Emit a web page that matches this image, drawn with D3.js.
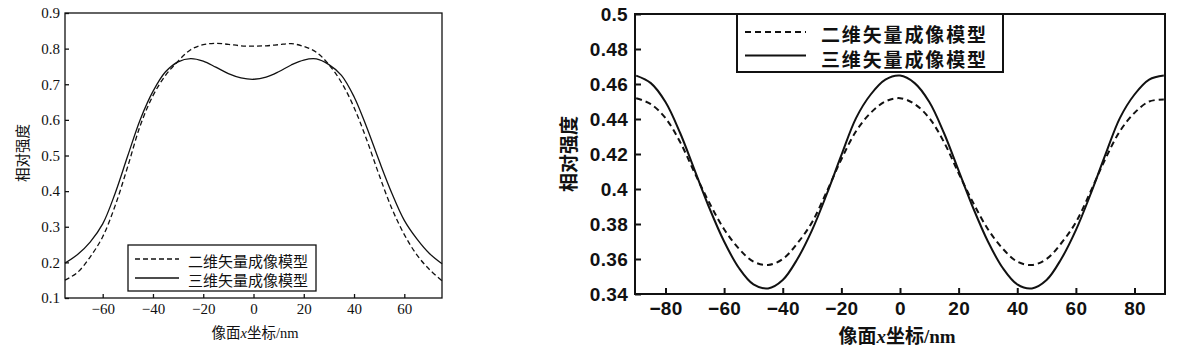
<!DOCTYPE html>
<html><head><meta charset="utf-8">
<script src="https://cdn.jsdelivr.net/npm/d3@7"></script>
<style>html,body{margin:0;padding:0;background:#fff;}</style>
</head><body>
<script>
// ---------- Left chart data ----------
const leftX = [-75,-70,-65,-60,-55,-50,-45,-40,-35,-30,-25,-20,-15,-10,-5,0,5,10,15,20,25,30,35,40,45,50,55,60,65,70,75];
const left2D = [0.150,0.172,0.215,0.272,0.360,0.470,0.585,0.668,0.725,0.765,0.797,0.811,0.815,0.812,0.808,0.807,0.808,0.811,0.814,0.806,0.790,0.755,0.705,0.635,0.545,0.445,0.352,0.278,0.221,0.180,0.148];
const left3D = [0.198,0.222,0.257,0.308,0.395,0.500,0.602,0.680,0.735,0.763,0.772,0.765,0.748,0.730,0.718,0.714,0.720,0.735,0.754,0.768,0.771,0.755,0.725,0.665,0.580,0.485,0.395,0.318,0.266,0.225,0.196];
const leftXTicks = [-60,-40,-20,0,20,40,60];
const leftXTickLabels = ["\u221260","\u221240","\u221220","0","20","40","60"];
const leftYTicks = [0.1,0.2,0.3,0.4,0.5,0.6,0.7,0.8,0.9];
const leftYTickLabels = ["0.1","0.2","0.3","0.4","0.5","0.6","0.7","0.8","0.9"];

// ---------- Right chart data ----------
const rightX = [-90,-85,-80,-75,-70,-65,-60,-55,-50,-45,-40,-35,-30,-25,-20,-15,-10,-5,0,5,10,15,20,25,30,35,40,45,50,55,60,65,70,75,80,85,90];
const right2D = [0.4519,0.4485,0.4405,0.4268,0.4090,0.3920,0.3770,0.3660,0.3585,0.3566,0.3600,0.3690,0.3810,0.3985,0.4170,0.4330,0.4435,0.4500,0.4519,0.4485,0.4405,0.4268,0.4090,0.3920,0.3770,0.3660,0.3585,0.3566,0.3600,0.3690,0.3810,0.3985,0.4170,0.4330,0.4435,0.4500,0.4512];
const right3D = [0.4648,0.4605,0.4497,0.4320,0.4105,0.3890,0.3700,0.3550,0.3455,0.3432,0.3480,0.3600,0.3765,0.3970,0.4193,0.4405,0.4540,0.4625,0.4648,0.4605,0.4497,0.4320,0.4105,0.3890,0.3700,0.3550,0.3455,0.3432,0.3480,0.3600,0.3765,0.3970,0.4193,0.4405,0.4540,0.4625,0.4648];
const rightXTicks = [-80,-60,-40,-20,0,20,40,60,80];
const rightXTickLabels = ["\u221280","\u221260","\u221240","\u221220","0","20","40","60","80"];
const rightYTicks = [0.34,0.36,0.38,0.40,0.42,0.44,0.46,0.48,0.50];
const rightYTickLabels = ["0.34","0.36","0.38","0.4","0.42","0.44","0.46","0.48","0.5"];

const seriesNames = ["二维矢量成像模型","三维矢量成像模型"];
const yTitle = "相对强度";

const W = 1177, H = 356;
const svg = d3.select("body").append("svg").attr("width", W).attr("height", H)
  .style("background","#fff");

function drawChart(o) {
  const x = d3.scaleLinear().domain(o.xDomain).range([o.left, o.right]);
  const y = d3.scaleLinear().domain(o.yDomain).range([o.bottom, o.top]);
  const g = svg.append("g");

  const xa = g.append("g").attr("transform", `translate(0,${o.bottom})`)
    .call(d3.axisBottom(x).tickValues(o.xTicks)
      .tickFormat((d,i) => o.xTickLabels[i])
      .tickSizeInner(-o.tickLen).tickSizeOuter(0).tickPadding(o.xPad));
  const ya = g.append("g").attr("transform", `translate(${o.left},0)`)
    .call(d3.axisLeft(y).tickValues(o.yTicks)
      .tickFormat((d,i) => o.yTickLabels[i])
      .tickSizeInner(-o.tickLen).tickSizeOuter(0).tickPadding(o.yPad));
  [xa, ya].forEach(a => {
    a.select(".domain").remove();
    a.selectAll("line").attr("stroke","#111").attr("stroke-width", o.sw);
    a.selectAll("text").attr("fill","#111")
      .style("font-family", o.numFont).style("font-size", o.numSize + "px")
      .style("font-weight", o.numWeight).style("letter-spacing", o.numLS + "px");
  });

  g.append("rect").attr("x", o.left).attr("y", o.top)
    .attr("width", o.right - o.left).attr("height", o.bottom - o.top)
    .attr("fill","none").attr("stroke","#111").attr("stroke-width", o.sw);

  const line = d3.line().x(d => x(d[0])).y(d => y(d[1])).curve(d3.curveCatmullRom.alpha(0.5));
  const d2 = o.xs.map((v,i) => [v, o.s2[i]]);
  const d3s = o.xs.map((v,i) => [v, o.s3[i]]);
  g.append("path").attr("d", line(d2)).attr("fill","none").attr("stroke","#111")
    .attr("stroke-width", o.lw).attr("stroke-dasharray", o.dash);
  g.append("path").attr("d", line(d3s)).attr("fill","none").attr("stroke","#111")
    .attr("stroke-width", o.lw);

  const L = o.legend;
  g.append("rect").attr("x", L.x0).attr("y", L.y0).attr("width", L.x1 - L.x0).attr("height", L.y1 - L.y0)
    .attr("fill","#fff").attr("stroke","#111").attr("stroke-width", o.sw);
  [[L.ly1, o.dash, L.ty1], [L.ly2, null, L.ty2]].forEach((r, i) => {
    g.append("line").attr("x1", L.lx0).attr("x2", L.lx1).attr("y1", r[0]).attr("y2", r[0])
      .attr("stroke","#111").attr("stroke-width", o.lw).attr("stroke-dasharray", r[1]);
    g.append("text").attr("x", L.tx).attr("y", r[2]).attr("dominant-baseline","central")
      .attr("textLength", L.tw).attr("lengthAdjust","spacing")
      .style("font-family", "'Noto Sans CJK SC'").style("font-size", L.fs + "px")
      .style("font-weight", o.cjkWeight).attr("fill","#111")
      .text(seriesNames[i]);
  });

  g.append("text").attr("transform", `translate(${o.yTitleX},${o.yTitleY}) rotate(-90)`)
    .attr("text-anchor","middle").attr("dominant-baseline","central")
    .style("font-family","'Noto Sans CJK SC'").style("font-size", o.titleSize + "px")
    .style("font-weight", o.cjkWeight).attr("fill","#111").text(yTitle);

  const xt = g.append("text").attr("x", o.xTitleX).attr("y", o.xTitleY).attr("text-anchor","middle")
    .style("font-size", o.titleSize + "px").style("font-weight", o.cjkWeight).attr("fill","#111");
  xt.append("tspan").style("font-family","'Noto Sans CJK SC'").text("像面");
  xt.append("tspan").style("font-family","'Liberation Serif'").style("font-style","italic").text("x");
  xt.append("tspan").style("font-family","'Noto Sans CJK SC'").text("坐标");
  xt.append("tspan").style("font-family","'Liberation Serif'").text("/nm");
}

drawChart({
  xDomain: [-75, 75], yDomain: [0.1, 0.9],
  left: 65, right: 442, top: 13, bottom: 298,
  xTicks: leftXTicks, xTickLabels: leftXTickLabels,
  yTicks: leftYTicks, yTickLabels: leftYTickLabels,
  tickLen: 4, xPad: 5, yPad: 5, sw: 1.3, lw: 1.3, dash: "5,3",
  numFont: "'Liberation Serif'", numSize: 15, numWeight: "normal", numLS: 0, cjkWeight: "normal",
  xs: leftX, s2: left2D, s3: left3D,
  legend: {x0: 128, x1: 316, y0: 245, y1: 291, lx0: 135, lx1: 179, ly1: 259, ly2: 278,
           tx: 188, tw: 120, ty1: 260, ty2: 279, fs: 15},
  yTitleX: 21, yTitleY: 153, titleSize: 14.5,
  xTitleX: 255, xTitleY: 338
});

drawChart({
  xDomain: [-90.4, 90.4], yDomain: [0.34, 0.5],
  left: 635, right: 1165, top: 14, bottom: 294,
  xTicks: rightXTicks, xTickLabels: rightXTickLabels,
  yTicks: rightYTicks, yTickLabels: rightYTickLabels,
  tickLen: 6, xPad: 8, yPad: 7, sw: 2, lw: 2, dash: "6,4",
  numFont: "'Liberation Sans'", numSize: 19, numWeight: "bold", numLS: 0.3, cjkWeight: "bold",
  xs: rightX, s2: right2D, s3: right3D,
  legend: {x0: 737, x1: 1003, y0: 14, y1: 72, lx0: 745, lx1: 806, ly1: 32, ly2: 55.5,
           tx: 821, tw: 165, ty1: 33.5, ty2: 58, fs: 19},
  yTitleX: 567, yTitleY: 154, titleSize: 19,
  xTitleX: 897, xTitleY: 343
});
</script>
</body></html>
